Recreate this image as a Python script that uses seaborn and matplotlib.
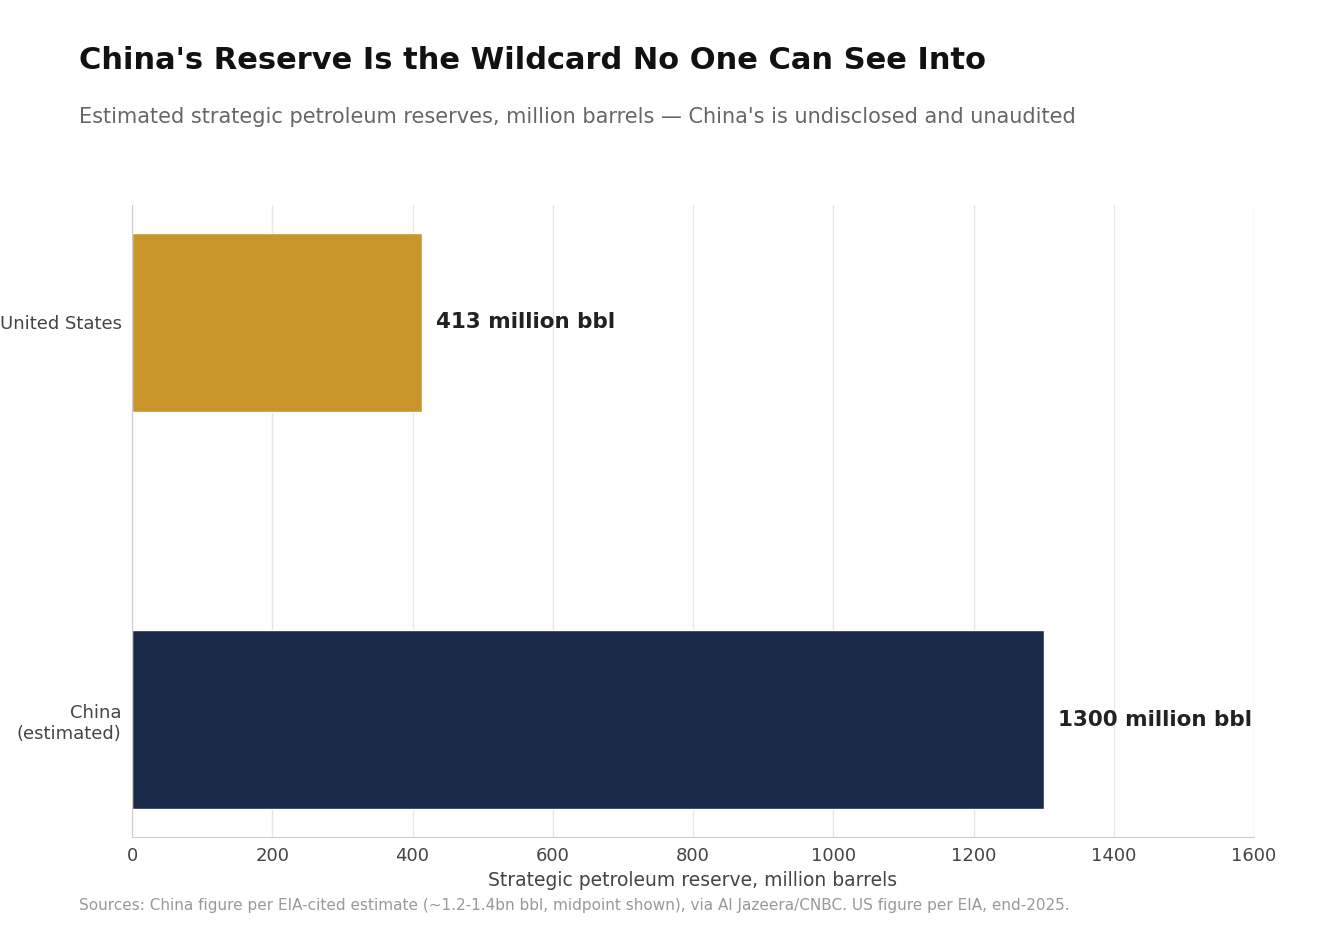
import matplotlib
matplotlib.use("Agg")
import matplotlib.pyplot as plt
import seaborn as sns
import pandas as pd

# data
countries = ["United States", "China\n(estimated)"]
reserves = [413, 1300]
bar_colors = ["#C8962B", "#1C2A4A"]

df = pd.DataFrame({"country": countries, "reserve": reserves})

sns.set_style("white")
plt.rcParams['font.family'] = ['DejaVu Sans']

fig = plt.figure(figsize=(13.2, 9.3), dpi=100)
ax = fig.add_axes([0.1, 0.1, 0.85, 0.6796])

sns.barplot(data=df, x="reserve", y="country", hue="country", palette=bar_colors,
            legend=False, width=0.45, ax=ax, saturation=1)

ax.set_xlim(0, 1600)
ax.set_ylim(1.295, -0.295)
ax.set_xticks(range(0, 1601, 200))
ax.xaxis.grid(True, color="#e6e6e6", linewidth=1)
ax.set_axisbelow(True)
for s in ["top", "right"]:
    ax.spines[s].set_visible(False)
for s in ["left", "bottom"]:
    ax.spines[s].set_color("#cccccc")
ax.tick_params(axis="y", length=4, color="#555555", labelsize=13, labelcolor="#444444")
ax.tick_params(axis="x", length=4, color="#cccccc", labelsize=13, labelcolor="#444444")
ax.set_ylabel("")
ax.set_xlabel("Strategic petroleum reserve, million barrels", fontsize=13.5, color="#444444", labelpad=4)

for i, v in enumerate(reserves):
    ax.text(v + 20, i, f"{v} million bbl", va="center", ha="left",
            fontsize=15.5, fontweight="bold", color="#222222")

fig.text(0.06, 0.935, "China's Reserve Is the Wildcard No One Can See Into",
         fontsize=22, fontweight="bold", color="#111111", va="center")
fig.text(0.06, 0.874, "Estimated strategic petroleum reserves, million barrels — China's is undisclosed and unaudited",
         fontsize=15, color="#666666", va="center")
fig.text(0.06, 0.026, "Sources: China figure per EIA-cited estimate (~1.2-1.4bn bbl, midpoint shown), via Al Jazeera/CNBC. US figure per EIA, end-2025.",
         fontsize=11, color="#999999", va="center")

fig.savefig("out.png", dpi=100)
